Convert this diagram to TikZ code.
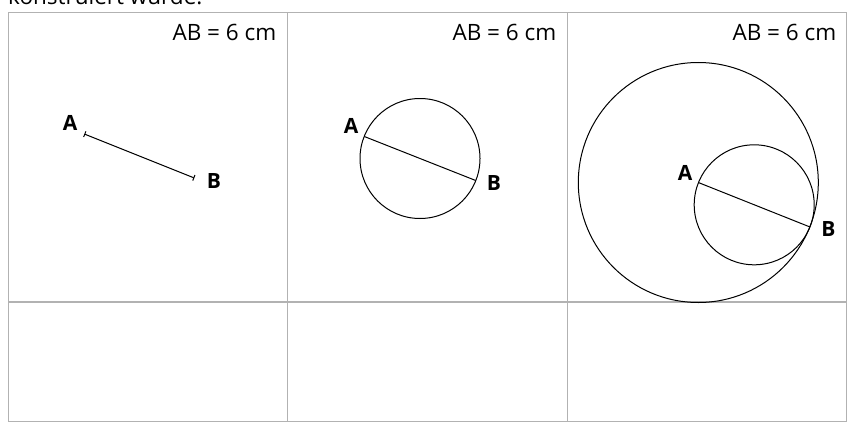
\documentclass[tikz,border=0pt]{standalone}
\usepackage{fontspec}
\setmainfont{Open Sans}
\usetikzlibrary{arrows.meta}
\tikzset{
  grid/.style={draw=black!30, line width=1.3pt},
  geo/.style={draw=black, line width=1pt},
  pt/.style={font=\fontsize{21}{24}\selectfont\bfseries, inner sep=0pt},
  len/.style={font=\fontsize{22.5}{26}\selectfont, inner sep=0pt, anchor=base east},
}
\begin{document}
\begin{tikzpicture}[x=1pt,y=-1pt]
\useasboundingbox (0,0) rectangle (851,428);
\begin{scope}
\clip (0,0) rectangle (851,428);
\node[font=\fontsize{22.5}{26}\selectfont, inner sep=0pt, anchor=base west] (cap) at (8,5) {konstruiert wurde.};
\end{scope}
% table
\draw[grid] (8.3,12.5) rectangle (846.7,421.7);
\draw[grid] (8.3,302) -- (846.7,302);
\draw[grid] (287.7,12.5) -- (287.7,421.7);
\draw[grid] (567.7,12.5) -- (567.7,421.7);
% length labels
\node[len] (l1) at (276.5,41) {AB = 6 cm};
\node[len] (l2) at (556.5,41) {AB = 6 cm};
\node[len] (l3) at (836.5,41) {AB = 6 cm};
% panel 1
\coordinate (A1) at (84.3,134);
\coordinate (B1) at (194.3,178);
\draw[geo, {Bar[width=6pt,line width=1pt]}-{Bar[width=6pt,line width=1pt]}] (A1) -- (B1);
\node[pt] (a1) at (70,123) {A};
\node[pt] (b1) at (214,181) {B};
% panel 2
\coordinate (C2) at (420,158.5);
\coordinate (A2) at (364.3,136.5);
\coordinate (B2) at (475.7,180.5);
\draw[geo] (C2) circle[radius=60];
\draw[geo] (A2) -- (B2);
\node[pt] (a2) at (351,126) {A};
\node[pt] (b2) at (494,183.5) {B};
% panel 3
\coordinate (A3) at (698.3,182.5);
\coordinate (B3) at (810,227);
\coordinate (M3) at (754.2,204.8);
\draw[geo] (A3) circle[radius=120];
\draw[geo] (M3) circle[radius=60];
\draw[geo] (A3) -- (B3);
\node[pt] (a3) at (685,172.5) {A};
\node[pt] (b3) at (828.5,229.5) {B};
\end{tikzpicture}
\end{document}
